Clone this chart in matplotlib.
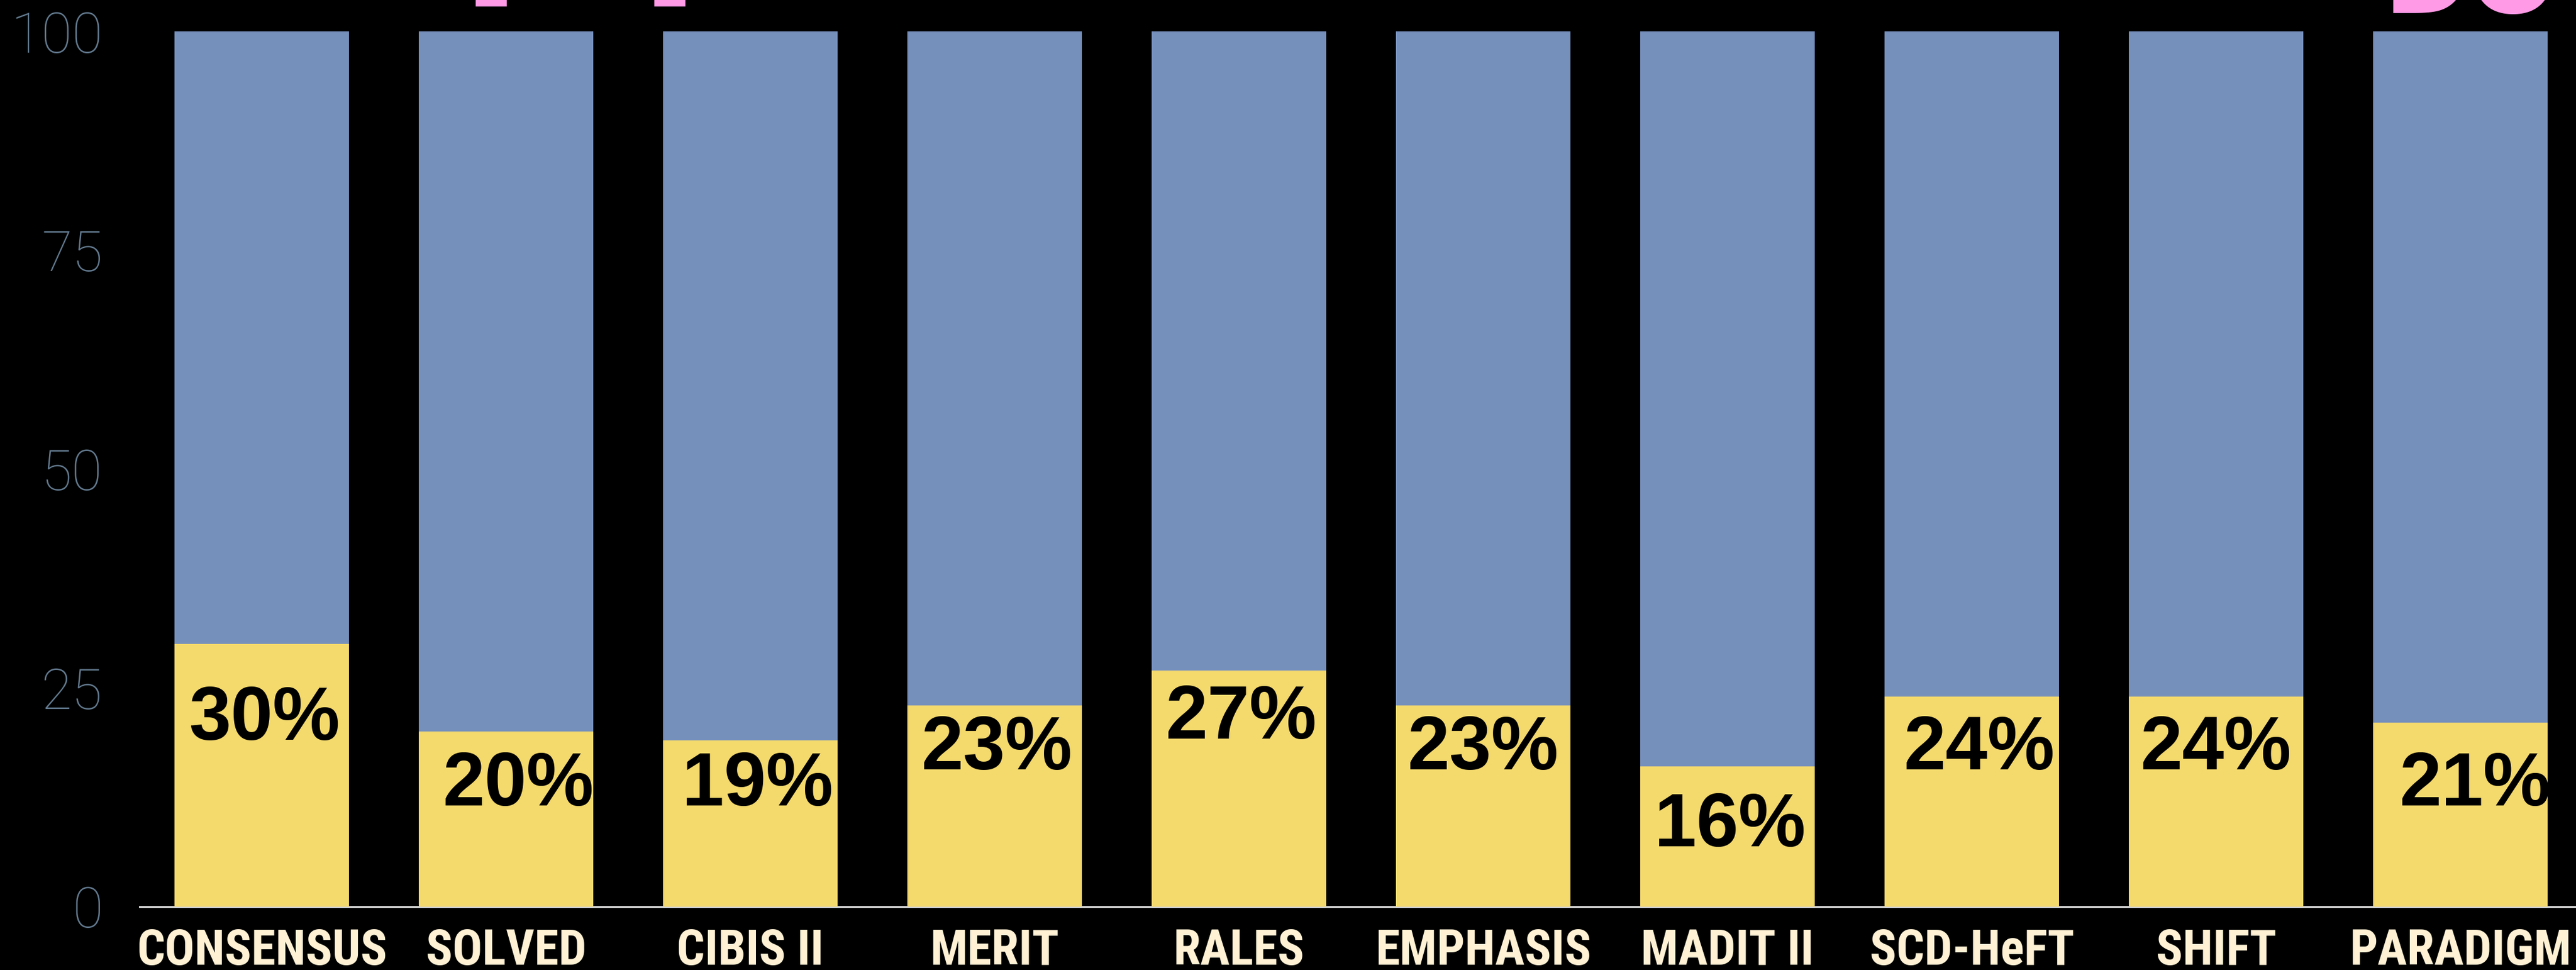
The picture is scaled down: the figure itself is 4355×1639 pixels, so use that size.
import matplotlib
matplotlib.use("Agg")
import matplotlib.pyplot as plt
from matplotlib import font_manager

# Ensaios e percentagem de doentes (barra amarela); o resto ate 100 fica a azul.
ensaios = ["CONSENSUS", "SOLVED", "CIBIS II", "MERIT", "RALES",
           "EMPHASIS", "MADIT II", "SCD-HeFT", "SHIFT", "PARADIGM"]
percentagens = [30, 20, 19, 23, 27, 23, 16, 24, 24, 21]
total = [100] * len(ensaios)
marcas_y = [0, 25, 50, 75, 100]

# Onde fica cada rotulo de percentagem dentro da barra (altura em unidades do eixo, desvio horizontal).
rotulo_y = [21.3, 13.8, 13.8, 17.9, 21.4, 17.9, 9.1, 17.9, 17.9, 13.8]
rotulo_dx = [0.01, 0.05, 0.03, 0.01, 0.01, 0.0, 0.01, 0.03, 0.0, 0.06]

AZUL = "#7690bc"
AMARELO = "#f4d96d"
CREME = "#fff1d4"
CINZA_EIXO = "#62798e"
ROSA = "#ff9ae6"


def escolher_fonte(opcoes):
    # Devolve a primeira familia instalada da lista.
    nomes = {f.name for f in font_manager.fontManager.ttflist}
    for nome in opcoes:
        if nome in nomes:
            return nome
    return "DejaVu Sans"


fonte_estreita = escolher_fonte(["Liberation Sans Narrow", "DejaVu Sans Condensed", "Roboto Condensed", "Liberation Sans"])
fonte_leve = escolher_fonte(["Roboto", "Lato", "Open Sans", "DejaVu Sans"])
fonte_negrito = escolher_fonte(["Liberation Sans", "Roboto", "DejaVu Sans"])

fig = plt.figure(figsize=(43.55, 16.39), dpi=100, facecolor="black")
ax = fig.add_axes([236 / 4355, (1639 - 1532) / 1639, 1 - 236 / 4355, 1479 / 1639])
ax.set_facecolor("black")

# Titulo rosa do diapositivo, quase todo acima do limite da figura.
fig.text(779 / 4355, 1 + 51 / 1639, "p", fontsize=216, fontweight="bold", color=ROSA,
         family="DejaVu Sans", va="baseline", ha="left")
fig.text(1081 / 4355, 1 + 51 / 1639, "p", fontsize=216, fontweight="bold", color=ROSA,
         family="DejaVu Sans", va="baseline", ha="left")
fig.text(4030 / 4355, 1 - 22 / 1639, "DO", fontsize=126, fontweight="bold", color=ROSA,
         family="DejaVu Sans", va="baseline", ha="left")

x = list(range(len(ensaios)))
ax.bar(x, total, width=0.714, color=AZUL, zorder=2)
ax.bar(x, percentagens, width=0.714, color=AMARELO, zorder=3)

for i, p in enumerate(percentagens):
    ax.text(i + rotulo_dx[i], rotulo_y[i], f"{p}%", ha="center", va="center",
            fontsize=92, fontweight="bold", family=fonte_negrito, color="black", zorder=4)

ax.set_xlim(-0.5, 9.473)
ax.set_ylim(0, 100)
ax.set_yticks(marcas_y)
ax.set_yticklabels([str(v) for v in marcas_y], fontsize=68, family=fonte_leve,
                   fontweight="light", color=CINZA_EIXO)
ax.set_xticks(x)
ax.set_xticklabels(ensaios, fontsize=60, family=fonte_estreita, fontweight="bold", color=CREME)
ax.tick_params(axis="y", length=0, pad=45)
ax.tick_params(axis="x", length=0, pad=26)

for lado in ["top", "right", "left"]:
    ax.spines[lado].set_visible(False)
ax.spines["bottom"].set_color("#dcdcdc")
ax.spines["bottom"].set_linewidth(2.2)
ax.spines["bottom"].set_zorder(1)

fig.savefig("out.png", dpi=100, facecolor="black")
